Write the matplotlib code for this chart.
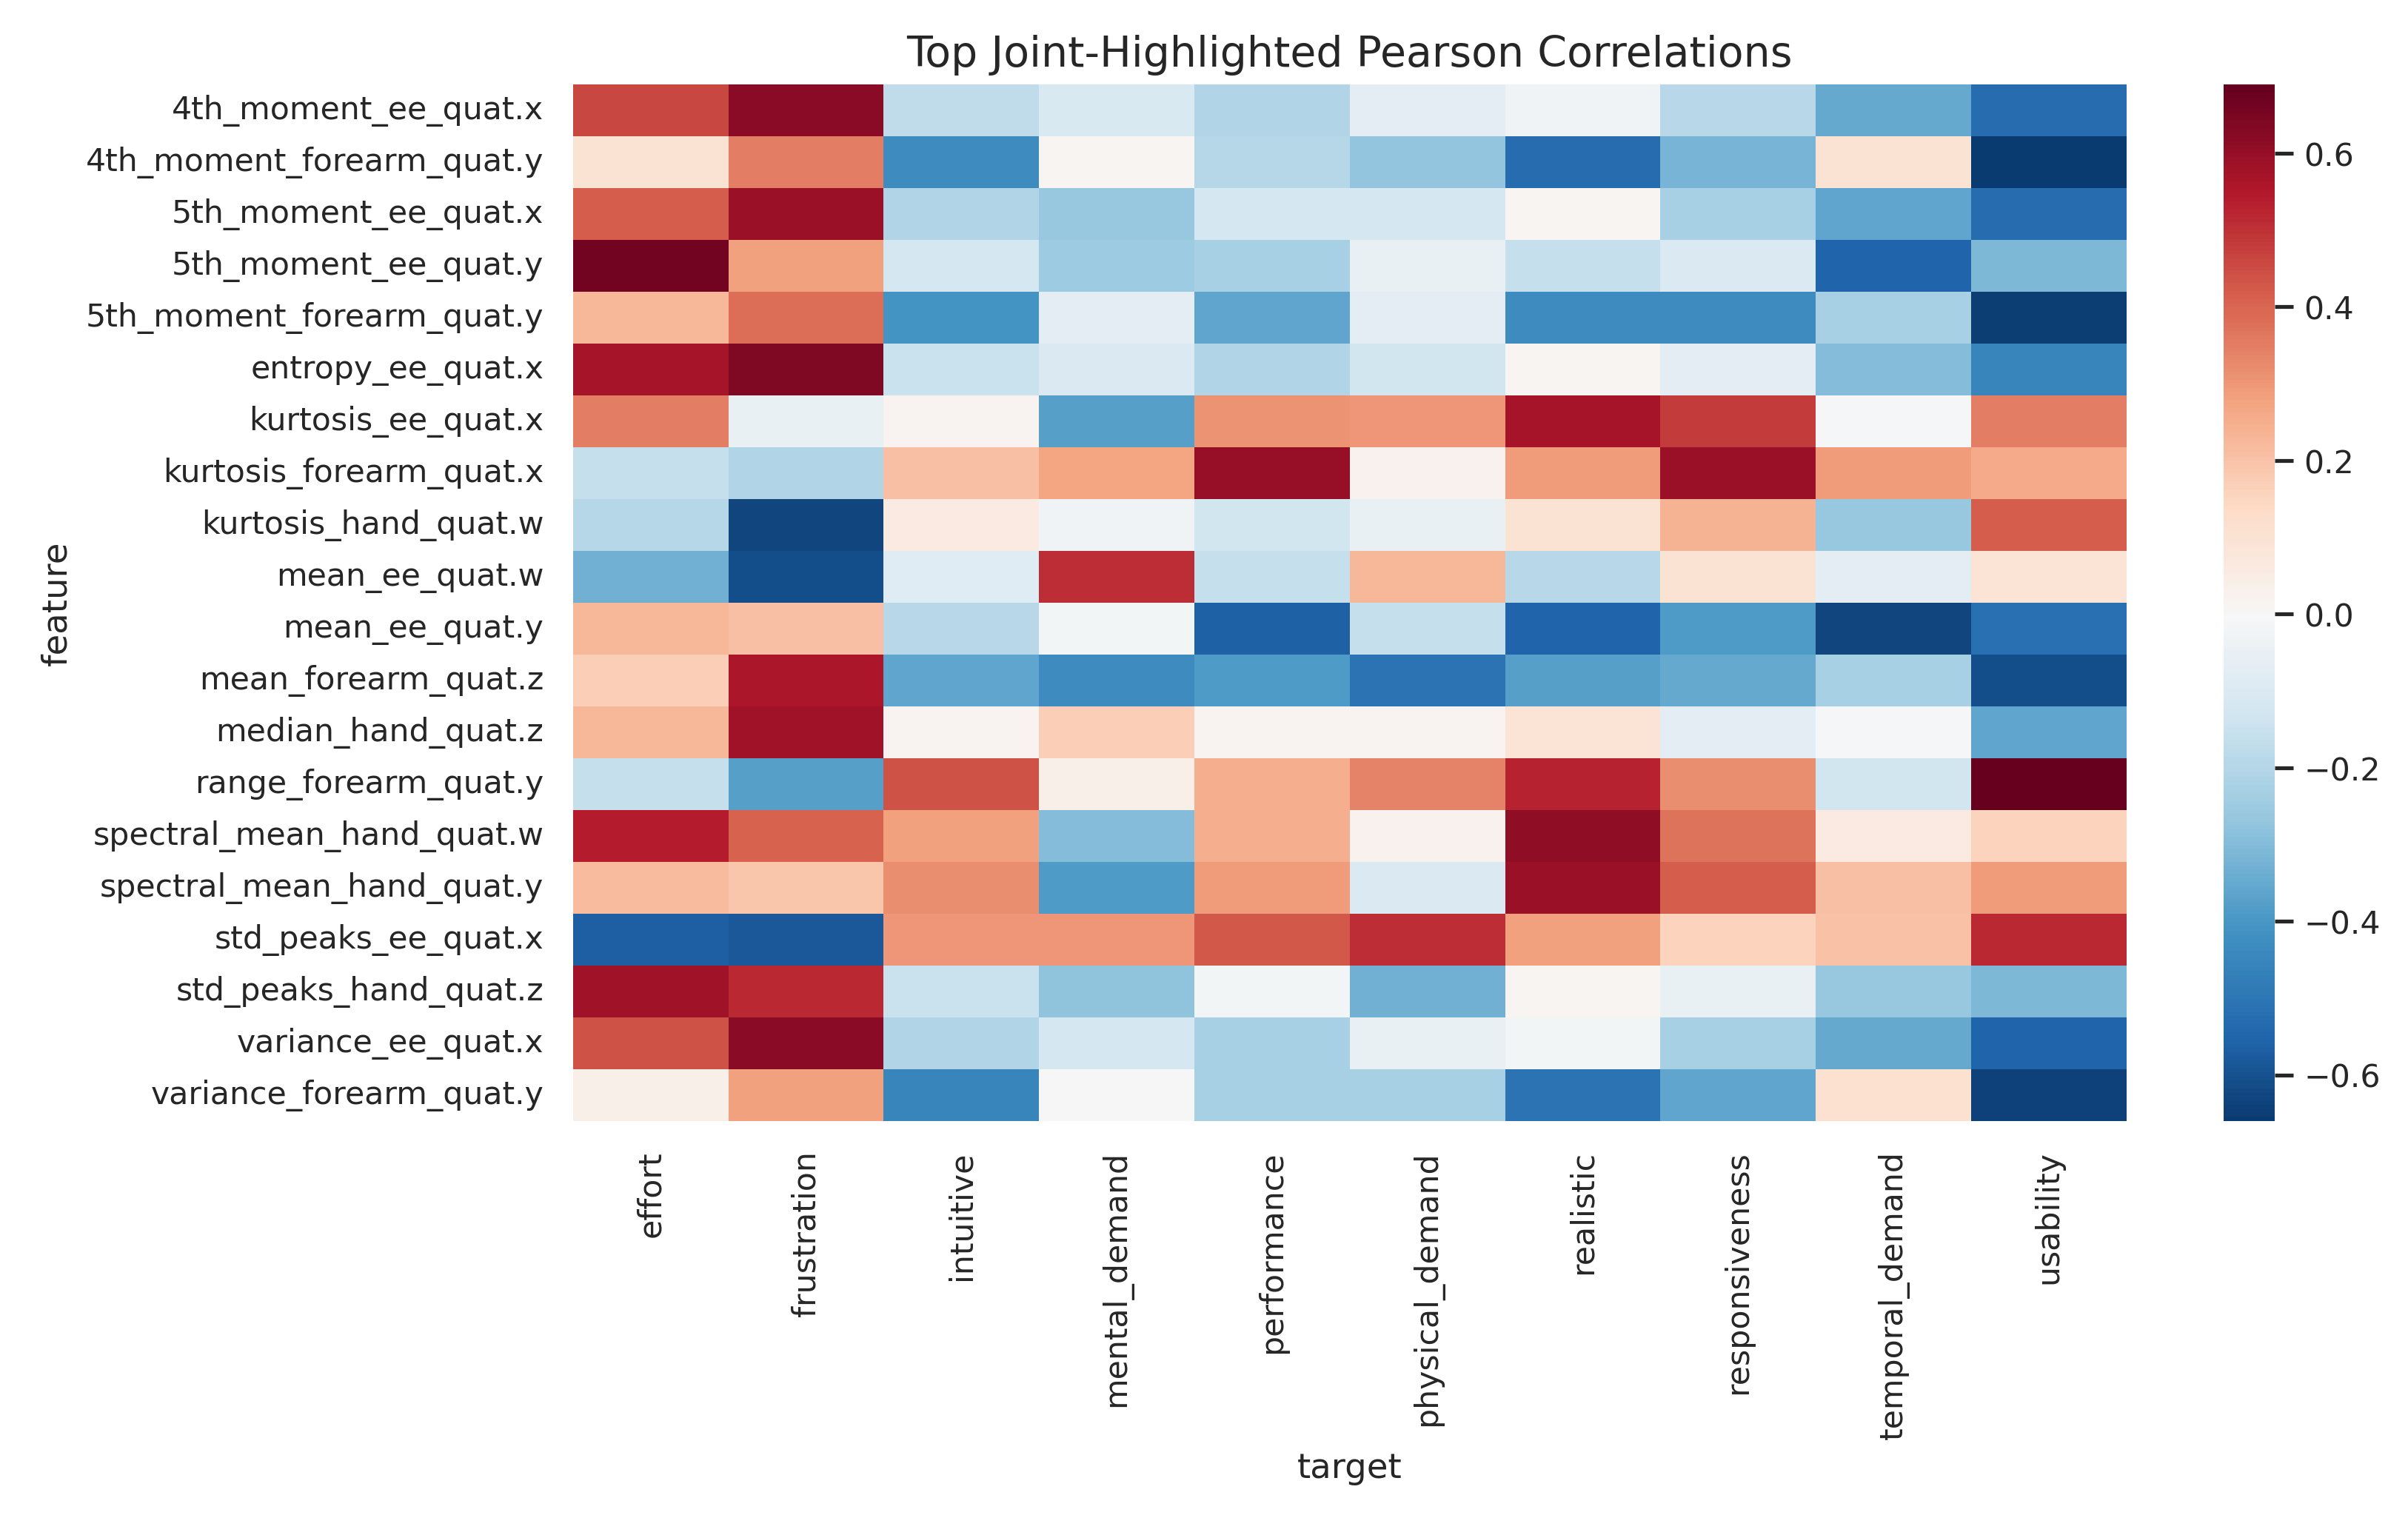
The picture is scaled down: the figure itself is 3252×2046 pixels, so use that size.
import numpy as np
import pandas as pd
import seaborn as sns
import matplotlib.pyplot as plt

features = ['4th_moment_ee_quat.x', '4th_moment_forearm_quat.y', '5th_moment_ee_quat.x',
            '5th_moment_ee_quat.y', '5th_moment_forearm_quat.y', 'entropy_ee_quat.x',
            'kurtosis_ee_quat.x', 'kurtosis_forearm_quat.x', 'kurtosis_hand_quat.w',
            'mean_ee_quat.w', 'mean_ee_quat.y', 'mean_forearm_quat.z', 'median_hand_quat.z',
            'range_forearm_quat.y', 'spectral_mean_hand_quat.w', 'spectral_mean_hand_quat.y',
            'std_peaks_ee_quat.x', 'std_peaks_hand_quat.z', 'variance_ee_quat.x',
            'variance_forearm_quat.y']
targets = ['effort', 'frustration', 'intuitive', 'mental_demand', 'performance',
           'physical_demand', 'realistic', 'responsiveness', 'temporal_demand', 'usability']

# one row per feature, columns follow targets
corr = [
    [0.46, 0.62, -0.17, -0.11, -0.21, -0.07, -0.03, -0.19, -0.35, -0.53],
    [0.10, 0.35, -0.43, 0.01, -0.20, -0.27, -0.53, -0.32, 0.10, -0.66],
    [0.42, 0.59, -0.21, -0.26, -0.12, -0.12, 0.01, -0.23, -0.36, -0.53],
    [0.66, 0.28, -0.12, -0.25, -0.23, -0.05, -0.16, -0.10, -0.55, -0.31],
    [0.23, 0.38, -0.41, -0.07, -0.36, -0.07, -0.43, -0.43, -0.23, -0.65],
    [0.57, 0.64, -0.15, -0.10, -0.21, -0.13, 0.01, -0.07, -0.30, -0.45],
    [0.35, -0.05, 0.02, -0.38, 0.31, 0.30, 0.57, 0.48, -0.01, 0.35],
    [-0.16, -0.21, 0.21, 0.27, 0.60, 0.03, 0.29, 0.59, 0.29, 0.26],
    [-0.20, -0.63, 0.06, -0.03, -0.13, -0.05, 0.10, 0.24, -0.26, 0.42],
    [-0.33, -0.61, -0.08, 0.51, -0.16, 0.23, -0.19, 0.10, -0.07, 0.09],
    [0.23, 0.21, -0.19, -0.02, -0.565, -0.16, -0.55, -0.39, -0.63, -0.52],
    [0.17, 0.56, -0.36, -0.43, -0.39, -0.51, -0.38, -0.35, -0.23, -0.61],
    [0.23, 0.58, 0.02, 0.17, 0.02, 0.02, 0.09, -0.07, -0.01, -0.36],
    [-0.16, -0.38, 0.44, 0.04, 0.25, 0.34, 0.53, 0.32, -0.13, 0.69],
    [0.54, 0.41, 0.28, -0.30, 0.25, 0.03, 0.61, 0.37, 0.06, 0.16],
    [0.22, 0.19, 0.32, -0.39, 0.29, -0.10, 0.59, 0.42, 0.21, 0.29],
    [-0.57, -0.585, 0.30, 0.30, 0.43, 0.51, 0.28, 0.16, 0.20, 0.52],
    [0.58, 0.52, -0.15, -0.28, -0.02, -0.33, 0.01, -0.05, -0.26, -0.31],
    [0.44, 0.62, -0.21, -0.12, -0.23, -0.05, -0.02, -0.23, -0.35, -0.55],
    [0.04, 0.28, -0.45, 0.00, -0.23, -0.23, -0.51, -0.36, 0.11, -0.64],
]

df = pd.DataFrame(corr, index=features, columns=targets)
df.index.name = 'feature'
df.columns.name = 'target'

sns.set_theme(font_scale=0.93)

fig = plt.figure(figsize=(10.84, 6.823))
ax = fig.add_axes([0.238, 0.26, 0.645, 0.684])
cax = fig.add_axes([0.9234, 0.26, 0.0212, 0.684])
sns.heatmap(df, cmap='RdBu_r', center=0, ax=ax, cbar_ax=cax)
ax.set_title('Top Joint-Highlighted Pearson Correlations', fontsize=13.7)
ax.set_xticklabels(ax.get_xticklabels(), rotation=90)
ax.set_yticklabels(ax.get_yticklabels(), rotation=0)

plt.savefig('out.png', dpi=300)
